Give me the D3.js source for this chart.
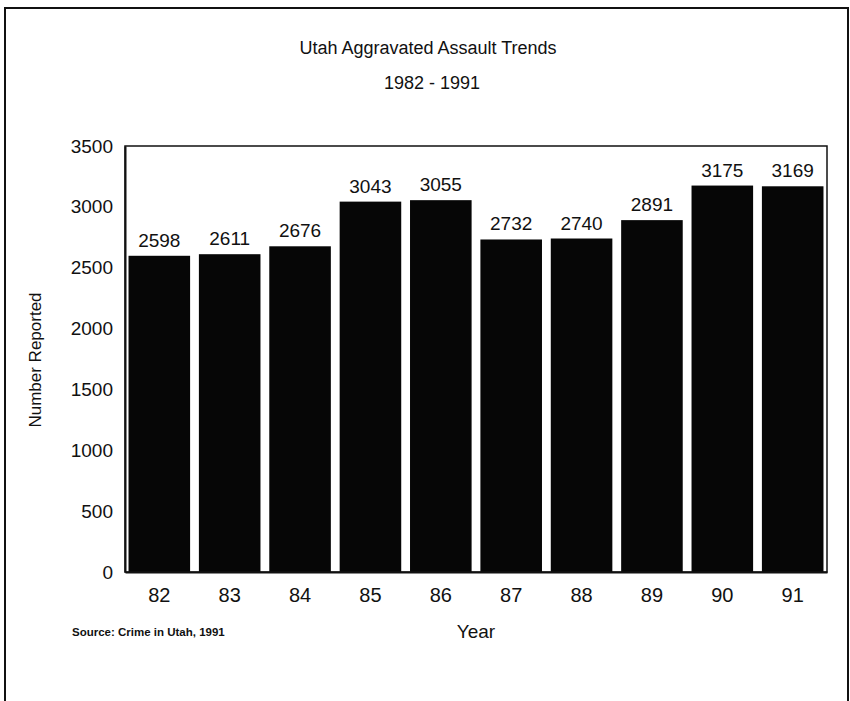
<!DOCTYPE html>
<html>
  <head>
    <meta http-equiv="Content-Type" content="text/html;charset=utf-8">
    <title>Utah Aggravated Assault Trends</title>
    <script type="text/javascript" src="https://d3js.org/d3.v7.min.js"></script>
    <style type="text/css">
body {
    margin: 0;
    background: #fff;
}
text {
    font-family: "Liberation Sans", Arial, sans-serif;
    fill: #111;
}
.frame {
    fill: none;
    stroke: #111;
}
.bar {
    fill: #060606;
}
    </style>
  </head>
  <body>
    <script type="text/javascript">
var years = ["82", "83", "84", "85", "86", "87", "88", "89", "90", "91"];
var reported = [2598, 2611, 2676, 3043, 3055, 2732, 2740, 2891, 3175, 3169];
var yTicks = [0, 500, 1000, 1500, 2000, 2500, 3000, 3500];

var width = 850,
   height = 701;

var plot = {left: 125, top: 146, right: 827, bottom: 572};

var svg = d3.select("body")
  .append("svg")
  .attr("width", width)
  .attr("height", height);

svg.append("rect")
  .attr("width", width)
  .attr("height", height)
  .attr("fill", "#fff");

// page border (scan edges: top, left, right)
svg.append("path")
  .attr("class", "frame")
  .attr("stroke-width", 2)
  .attr("d", "M5,701V8H848V701");

var x = d3.scaleBand()
  .domain(years)
  .range([plot.left, plot.right])
  .paddingInner(0.125)
  .paddingOuter(0.05);

var y = d3.scaleLinear()
  .domain([0, 3500])
  .range([plot.bottom, plot.top]);

svg.append("text")
  .attr("x", 428)
  .attr("y", 54)
  .attr("text-anchor", "middle")
  .style("font-size", "18px")
  .text("Utah Aggravated Assault Trends");

svg.append("text")
  .attr("x", 432)
  .attr("y", 89)
  .attr("text-anchor", "middle")
  .style("font-size", "18px")
  .text("1982 - 1991");

svg.selectAll("rect.bar")
  .data(reported)
  .enter()
  .append("rect")
  .attr("class", "bar")
  .attr("x", function(d, i) { return x(years[i]); })
  .attr("y", function(d) { return y(d); })
  .attr("width", x.bandwidth())
  .attr("height", function(d) { return y(0) - y(d); });

svg.selectAll("text.value")
  .data(reported)
  .enter()
  .append("text")
  .attr("class", "value")
  .attr("x", function(d, i) { return x(years[i]) + x.bandwidth() / 2; })
  .attr("y", function(d) { return y(d) - 9; })
  .attr("text-anchor", "middle")
  .style("font-size", "19px")
  .text(function(d) { return d; });

// plot box
svg.append("rect")
  .attr("class", "frame")
  .attr("x", plot.left)
  .attr("y", plot.top)
  .attr("width", plot.right - plot.left)
  .attr("height", plot.bottom - plot.top)
  .attr("stroke-width", 1.5);

var yAxis = svg.append("g")
  .attr("transform", "translate(" + plot.left + ",0)")
  .call(d3.axisLeft(y).tickValues(yTicks).tickFormat(d3.format("d")).tickSize(0).tickPadding(12));
yAxis.select(".domain").attr("stroke", "#111").attr("stroke-width", 2);
yAxis.selectAll("text")
  .style("font-size", "19px")
  .style("font-family", "'Liberation Sans', Arial, sans-serif")
  .attr("fill", "#111");

var xAxis = svg.append("g")
  .attr("transform", "translate(0," + plot.bottom + ")")
  .call(d3.axisBottom(x).tickSize(0).tickPadding(16));
xAxis.select(".domain").attr("stroke", "#111").attr("stroke-width", 2);
xAxis.selectAll("text")
  .style("font-size", "20px")
  .style("font-family", "'Liberation Sans', Arial, sans-serif")
  .attr("fill", "#111");

svg.append("text")
  .attr("transform", "translate(41,360) rotate(-90)")
  .attr("text-anchor", "middle")
  .style("font-size", "17px")
  .text("Number Reported");

svg.append("text")
  .attr("x", 476)
  .attr("y", 638)
  .attr("text-anchor", "middle")
  .style("font-size", "19px")
  .text("Year");

svg.append("text")
  .attr("x", 72)
  .attr("y", 636)
  .style("font-size", "11.5px")
  .style("font-weight", "bold")
  .text("Source:  Crime in Utah, 1991");
    </script>
  </body>
</html>
